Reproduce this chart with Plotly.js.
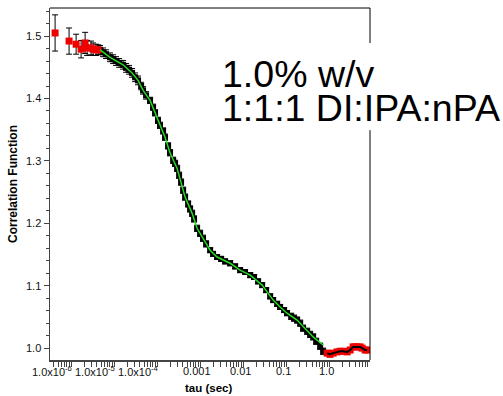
<!DOCTYPE html>
<html>
<head>
<meta charset="utf-8">
<script src="https://cdn.plot.ly/plotly-3.0.1.min.js"></script>
<style>html,body{margin:0;padding:0;background:#fff;}#chart{width:503px;height:396px;}</style>
</head>
<body>
<div id="chart"></div>
<script>
// Early points (red squares with error bars)
const tauEarly = [4.25e-7, 8.98e-7, 1.31e-6, 1.71e-6, 2.12e-6, 2.36e-6, 2.92e-6, 3.25e-6, 3.81e-6, 4.25e-6];
const g2Early  = [1.505, 1.492, 1.487, 1.479, 1.489, 1.481, 1.481, 1.479, 1.478, 1.478];
const errEarly = [0.029, 0.021, 0.016, 0.014, 0.017, 0.012, 0.011, 0.010, 0.009, 0.008];

// Dense middle data (black band)
const tauMid = [4.72e-6, 5.54e-6, 6.52e-6, 8.07e-6, 9.48e-6, 1.11e-5, 1.31e-5, 1.62e-5, 1.90e-5, 2.23e-5,
  2.62e-5, 3.08e-5, 3.61e-5, 4.25e-5, 4.72e-5, 5.54e-5, 6.87e-5, 8.07e-5, 8.97e-5, 1.05e-4,
  1.17e-4, 1.38e-4, 1.53e-4, 1.80e-4, 2.00e-4, 2.36e-4, 2.62e-4, 2.92e-4, 3.25e-4, 3.61e-4,
  4.03e-4, 4.48e-4, 5.26e-4, 5.85e-4, 6.52e-4, 7.24e-4, 8.51e-4, 1.00e-3, 1.17e-3, 1.38e-3,
  1.71e-3, 2.00e-3, 2.48e-3, 3.08e-3, 3.81e-3, 4.99e-3, 6.52e-3, 8.51e-3, 1.11e-2, 1.46e-2,
  1.80e-2, 2.23e-2, 2.77e-2, 3.43e-2, 4.25e-2, 4.99e-2, 6.18e-2, 7.24e-2, 8.97e-2, 0.105,
  0.131, 0.153, 0.180, 0.212, 0.248, 0.308, 0.361, 0.425, 0.499, 0.618, 0.724];
const g2Mid = [1.478, 1.474, 1.471, 1.466, 1.463, 1.460, 1.457, 1.454, 1.449, 1.446,
  1.441, 1.434, 1.429, 1.420, 1.413, 1.405, 1.397, 1.386, 1.377, 1.365,
  1.357, 1.348, 1.338, 1.324, 1.313, 1.301, 1.296, 1.288, 1.277, 1.266,
  1.253, 1.242, 1.231, 1.223, 1.216, 1.207, 1.192, 1.184, 1.176, 1.167,
  1.157, 1.151, 1.146, 1.143, 1.139, 1.136, 1.131, 1.125, 1.122, 1.117,
  1.114, 1.107, 1.101, 1.093, 1.083, 1.077, 1.071, 1.066, 1.061, 1.056,
  1.051, 1.048, 1.045, 1.040, 1.032, 1.027, 1.022, 1.018, 1.011, 1.003, 0.995];
const errMid = [0.007, 0.007, 0.007, 0.007, 0.007, 0.007, 0.007, 0.007, 0.007, 0.007,
  0.007, 0.007, 0.007, 0.006, 0.006, 0.006, 0.005, 0.005, 0.005, 0.005,
  0.005, 0.005, 0.005, 0.005, 0.005, 0.005, 0.005, 0.005, 0.005, 0.005,
  0.005, 0.005, 0.005, 0.005, 0.005, 0.005, 0.005, 0.005, 0.005, 0.005,
  0.004, 0.004, 0.004, 0.004, 0.004, 0.004, 0.004, 0.004, 0.004, 0.004,
  0.004, 0.004, 0.004, 0.004, 0.004, 0.004, 0.004, 0.004, 0.004, 0.004,
  0.005, 0.005, 0.005, 0.005, 0.005, 0.005, 0.005, 0.005, 0.005, 0.005, 0.005];

// Late points (red squares)
const tauLate = [0.897, 1.05, 1.24, 1.53, 1.80, 2.12, 2.62, 3.08, 3.61, 4.03, 4.48, 5.26, 5.85, 6.87, 7.65];
const g2Late  = [0.992, 0.990, 0.992, 0.994, 0.995, 0.995, 0.994, 0.997, 1.002, 1.002, 1.002, 1.002, 1.000, 0.997, 0.997];

// Fit (green line)
const tauFit = [4.72e-6, 8.07e-6, 1.62e-5, 2.62e-5, 3.61e-5, 4.72e-5, 6.87e-5, 8.97e-5, 1.17e-4, 1.53e-4,
  2.00e-4, 2.92e-4, 4.48e-4, 6.52e-4, 8.51e-4, 1.17e-3, 1.71e-3, 2.48e-3, 4.99e-3, 8.51e-3,
  1.46e-2, 2.77e-2, 4.99e-2, 7.24e-2, 0.105, 0.180, 0.308, 0.425, 0.724];
const g2Fit = [1.478, 1.466, 1.454, 1.441, 1.429, 1.413, 1.397, 1.377, 1.357, 1.338,
  1.313, 1.288, 1.242, 1.216, 1.192, 1.176, 1.157, 1.146, 1.136, 1.125,
  1.117, 1.101, 1.077, 1.066, 1.056, 1.045, 1.029, 1.018, 1.005];

// Axis labels and note
const xTickVals = [1e-6, 1e-5, 1e-4, 1e-3, 1e-2, 1e-1, 1];
const xTickText = ['1.0x10<sup>-6</sup>', '1.0x10<sup>-5</sup>', '1.0x10<sup>-4</sup>', '0.001', '0.01', '0.1', '1.0'];
const xTitle = 'tau (sec)';
const yTitle = 'Correlation Function';
const noteLines = ['1.0% w/v', '1:1:1 DI:IPA:nPA'];

const FONT = 'Liberation Sans, Arial, Helvetica, sans-serif';
const RED = '#ee0000';

const traces = [
  {x: tauMid, y: g2Mid, type: 'scatter', mode: 'markers',
   marker: {symbol: 'square', size: 6, color: '#000'},
   error_y: {type: 'data', array: errMid, visible: true, color: '#000', thickness: 1, width: 3},
   showlegend: false},
  {x: tauEarly, y: g2Early, type: 'scatter', mode: 'markers',
   marker: {symbol: 'square', size: 7, color: RED},
   error_y: {type: 'data', array: errEarly, visible: true, color: '#000', thickness: 1, width: 3},
   showlegend: false},
  {x: tauLate, y: g2Late, type: 'scatter', mode: 'markers',
   marker: {symbol: 'square', size: 7, color: RED}, showlegend: false},
  {x: tauLate, y: g2Late, type: 'scatter', mode: 'lines',
   line: {color: '#000', width: 2}, showlegend: false},
  {x: tauFit, y: g2Fit, type: 'scatter', mode: 'lines',
   line: {color: '#22dd22', width: 1.5}, showlegend: false}
];

const annotations = xTickVals.map((v, i) => ({
  x: Math.log10(v), xref: 'x', y: -0.031, yref: 'paper',
  xanchor: 'center', yanchor: 'middle',
  xshift: xTickText[i].indexOf('sup') >= 0 ? -19 : -3,
  text: xTickText[i], showarrow: false,
  font: {family: FONT, size: 11, color: '#111'}
}));
annotations.push({
  x: 0.494, xref: 'paper', y: -0.0795, yref: 'paper', xanchor: 'center', yanchor: 'middle',
  text: '<b>' + xTitle + '</b>', showarrow: false, font: {family: FONT, size: 11.5, color: '#000'}
});
annotations.push({
  x: -0.1156, xref: 'paper', y: 0.5, yref: 'paper', xanchor: 'center', yanchor: 'middle',
  textangle: -90, text: '<b>' + yTitle + '</b>', showarrow: false,
  font: {family: FONT, size: 12, color: '#000'}
});
const noteY = [0.8125, 0.7173];
noteLines.forEach((t, i) => annotations.push({
  x: 0.53125, xref: 'paper', y: noteY[i], yref: 'paper', xanchor: 'left', yanchor: 'middle',
  align: 'left', text: t, showarrow: false,
  font: {family: FONT, size: 37.5, color: '#000'}
}));

const layout = {
  width: 503, height: 396,
  margin: {l: 50, r: 133, t: 8, b: 36, pad: 0},
  paper_bgcolor: '#fff', plot_bgcolor: '#fff',
  showlegend: false,
  xaxis: {
    type: 'log', range: [-6.49, 0.95], dtick: 'D1',
    ticks: 'outside', ticklen: 5, tickwidth: 1, tickcolor: '#444',
    showticklabels: false, showline: true, linecolor: '#444', linewidth: 1.5,
    showgrid: false, zeroline: false, fixedrange: true
  },
  yaxis: {
    range: [0.981, 1.545], tick0: 1.0, dtick: 0.1, tickformat: '.1f',
    ticks: 'outside', ticklen: 5, tickwidth: 1, tickcolor: '#444',
    minor: {dtick: 0.02, tick0: 1.0, ticks: 'outside', ticklen: 3, tickcolor: '#444', tickwidth: 1},
    tickfont: {family: FONT, size: 11, color: '#111'},
    showline: true, linecolor: '#444', linewidth: 1.5,
    showgrid: false, zeroline: false, fixedrange: true
  },
  shapes: [
    {type: 'line', xref: 'paper', yref: 'paper', x0: 0, x1: 1, y0: 1, y1: 1, line: {color: '#000', width: 1}},
    {type: 'line', xref: 'paper', yref: 'paper', x0: 1, x1: 1, y0: 0.9006, y1: 1, line: {color: '#000', width: 1}},
    {type: 'line', xref: 'paper', yref: 'paper', x0: 1, x1: 1, y0: 0, y1: 0.653, line: {color: '#000', width: 1}}
  ],
  annotations: annotations
};

Plotly.newPlot('chart', traces, layout, {staticPlot: true, displayModeBar: false});
</script>
</body>
</html>
